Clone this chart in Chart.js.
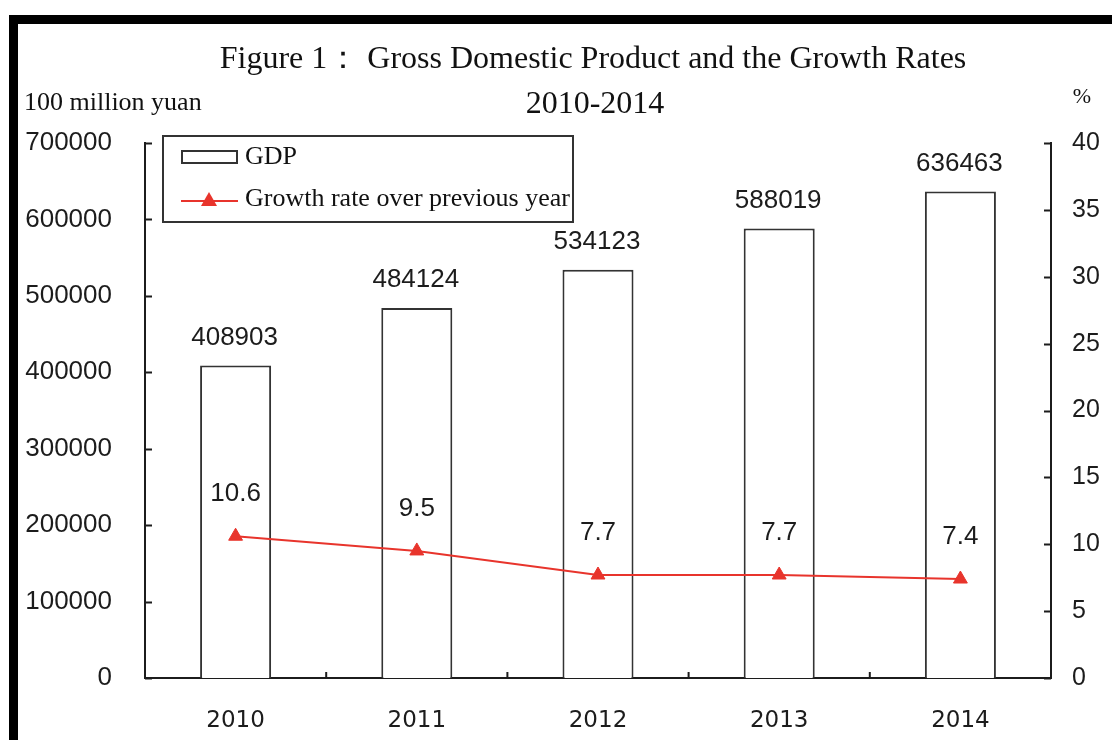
<!DOCTYPE html>
<html>
<head>
<meta charset="utf-8">
<script src="https://cdn.jsdelivr.net/npm/chart.js@4"></script>
<style>
html,body{margin:0;padding:0;background:#fff;}
#wrap{width:1112px;height:740px;position:relative;}
</style>
</head>
<body>
<div id="wrap"><canvas id="c" width="1112" height="740"></canvas></div>
<script>
const years = ['2010', '2011', '2012', '2013', '2014'];
const gdpValues = [408903, 484124, 534123, 588019, 636463];
const growthRates = [10.6, 9.5, 7.7, 7.7, 7.4];
const gdpTicks = [0, 100000, 200000, 300000, 400000, 500000, 600000, 700000];
const rateTicks = [0, 5, 10, 15, 20, 25, 30, 35, 40];
const titleLine1 = 'Figure 1\uFF1A Gross Domestic Product and the Growth Rates';
const titleLine2 = '2010-2014';
const leftUnit = '100 million yuan';
const rightUnit = '%';
const seriesNames = ['GDP', 'Growth rate over previous year'];

const INK = '#1c1c1c';
const RED = '#e8342c';
const SANS = '"Liberation Sans", Arial, sans-serif';
const SERIF = '"Liberation Serif", "Times New Roman", serif';

const decor = {
  id: 'decor',
  beforeDraw(chart) {
    const ctx = chart.ctx;
    ctx.save();
    ctx.fillStyle = '#fff';
    ctx.fillRect(0, 0, chart.width, chart.height);
    ctx.restore();
  },
  afterDraw(chart) {
    const ctx = chart.ctx;
    const xs = chart.scales.x, ys = chart.scales.y, y1 = chart.scales.y1;
    ctx.save();
    // frame
    ctx.fillStyle = '#000';
    ctx.fillRect(9, 15, 9, chart.height - 15);
    ctx.fillRect(9, 15, chart.width - 9, 9);
    // titles
    ctx.fillStyle = '#111';
    ctx.textAlign = 'center';
    ctx.textBaseline = 'middle';
    ctx.font = '32px ' + SERIF;
    ctx.fillText(titleLine1, 593, 60);
    ctx.fillText(titleLine2, 595, 105);
    ctx.font = '26px ' + SERIF;
    ctx.textAlign = 'left';
    ctx.fillText(leftUnit, 24, 103);
    ctx.font = '22px ' + SERIF;
    ctx.textAlign = 'center';
    ctx.fillText(rightUnit, 1082, 97);
    // inward ticks
    ctx.strokeStyle = INK;
    ctx.lineWidth = 2;
    ctx.beginPath();
    const lx0 = ys.right, rx0 = y1.left;
    gdpTicks.forEach(v => {
      const p = Math.round(ys.getPixelForValue(v)) + 0.5;
      ctx.moveTo(lx0, p); ctx.lineTo(lx0 + 7, p);
    });
    rateTicks.forEach(v => {
      const p = Math.round(y1.getPixelForValue(v)) + 0.5;
      ctx.moveTo(rx0, p); ctx.lineTo(rx0 - 7, p);
    });
    for (let i = 0; i < years.length - 1; i++) {
      const bx = (xs.getPixelForValue(i) + xs.getPixelForValue(i + 1)) / 2;
      ctx.moveTo(bx, xs.top); ctx.lineTo(bx, xs.top - 6);
    }
    ctx.stroke();
    // data labels
    ctx.fillStyle = INK;
    ctx.font = '26px ' + SANS;
    ctx.textAlign = 'center';
    ctx.textBaseline = 'middle';
    const barMeta = chart.getDatasetMeta(0);
    barMeta.data.forEach((el, i) => {
      ctx.fillText(String(gdpValues[i]), el.x - 1, el.y - 28);
    });
    const lineMeta = chart.getDatasetMeta(1);
    lineMeta.data.forEach((el, i) => {
      ctx.fillText(growthRates[i].toFixed(1), el.x, el.y - 42);
    });
    // legend
    const lx = 163, ly = 136, lw = 410, lh = 86;
    ctx.fillStyle = '#fff';
    ctx.fillRect(lx, ly, lw, lh);
    ctx.strokeStyle = '#333';
    ctx.lineWidth = 2;
    ctx.strokeRect(lx, ly, lw, lh);
    ctx.strokeRect(182, 151, 55, 12);
    ctx.strokeStyle = RED;
    ctx.beginPath();
    ctx.moveTo(181, 201); ctx.lineTo(238, 201);
    ctx.stroke();
    ctx.fillStyle = RED;
    ctx.beginPath();
    ctx.moveTo(209, 192); ctx.lineTo(217, 206); ctx.lineTo(201, 206); ctx.closePath();
    ctx.fill();
    ctx.fillStyle = '#111';
    ctx.textAlign = 'left';
    ctx.font = '26px ' + SERIF;
    ctx.fillText(seriesNames[0], 245, 157);
    ctx.fillText(seriesNames[1], 245, 199);
    ctx.restore();
  }
};

new Chart(document.getElementById('c'), {
  data: {
    labels: years,
    datasets: [
      {
        type: 'bar', label: seriesNames[0], data: gdpValues, yAxisID: 'y',
        backgroundColor: '#fff', borderColor: '#333', borderWidth: 2,
        barPercentage: 0.392, categoryPercentage: 1, order: 2
      },
      {
        type: 'line', label: seriesNames[1], data: growthRates, yAxisID: 'y1',
        borderColor: RED, borderWidth: 2, backgroundColor: RED,
        pointStyle: 'triangle', pointRadius: 8, pointBackgroundColor: RED,
        pointBorderColor: RED, pointBorderWidth: 1, tension: 0, order: 1
      }
    ]
  },
  options: {
    responsive: false,
    animation: false,
    devicePixelRatio: 1,
    layout: { padding: { left: 0, right: 0, top: 143, bottom: 0 } },
    plugins: { legend: { display: false }, tooltip: { enabled: false }, title: { display: false } },
    scales: {
      x: {
        type: 'category', offset: true,
        grid: { display: false, drawTicks: false },
        border: { display: true, color: INK, width: 2 },
        ticks: { color: INK, font: { family: '"DejaVu Sans", sans-serif', size: 23 }, padding: 29, maxRotation: 0 },
        afterFit(s) { s.height = 62; }
      },
      y: {
        position: 'left', min: 0, max: 700000,
        afterBuildTicks(s) { s.ticks = gdpTicks.map(v => ({ value: v })); },
        grid: { display: false, drawTicks: false },
        border: { display: true, color: INK, width: 2 },
        ticks: { color: INK, font: { family: SANS, size: 26 }, padding: 33, callback: v => String(v) },
        afterFit(s) { s.width = 145; }
      },
      y1: {
        position: 'right', min: 0, max: 40,
        afterBuildTicks(s) { s.ticks = rateTicks.map(v => ({ value: v })); },
        grid: { display: false, drawTicks: false },
        border: { display: true, color: INK, width: 2 },
        ticks: { color: INK, font: { family: SANS, size: 25 }, padding: 21, callback: v => String(v) },
        afterFit(s) { s.width = 61; }
      }
    }
  },
  plugins: [decor]
});
</script>
</body>
</html>
